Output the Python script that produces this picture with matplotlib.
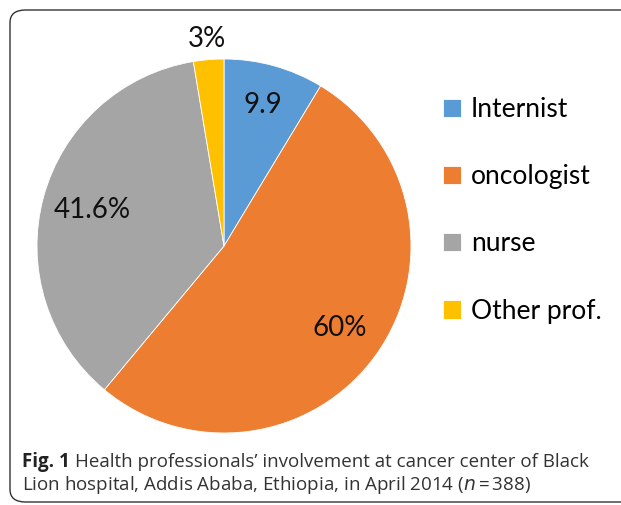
import matplotlib
matplotlib.use("Agg")
import matplotlib.pyplot as plt
from matplotlib.patches import FancyBboxPatch
import numpy as np

categories = ["Internist", "oncologist", "nurse", "Other prof."]
values = [9.9, 60, 41.6, 3]
value_labels = ["9.9", "60%", "41.6%", "3%"]
colors = ["#5B9BD5", "#ED7D31", "#A5A5A5", "#FFC000"]
label_radii = [0.78, 0.76, 0.73, 1.11]

W, H = 621, 505
fig = plt.figure(figsize=(W / 100, H / 100), dpi=100)

# rounded frame
frame = FancyBboxPatch((10 / W, 1 - 502 / H), (640 - 10) / W, (502 - 10) / H,
                       boxstyle="round,pad=0,rounding_size=0.025",
                       transform=fig.transFigure, facecolor="none",
                       edgecolor="#333333", linewidth=1.0, clip_on=False)
fig.patches.append(frame)

cx, cy, r = 224, 246, 187
ax = fig.add_axes([(cx - r) / W, 1 - (cy + r) / H, 2 * r / W, 2 * r / H])
wedges, _ = ax.pie(values, colors=colors, startangle=90, counterclock=False,
                   radius=1.0, wedgeprops=dict(linewidth=0.6, edgecolor="white"))
ax.set_xlim(-1, 1)
ax.set_ylim(-1, 1)
ax.set_aspect("equal")
ax.axis("off")

font = "Lato"
for w, lab, rad in zip(wedges, value_labels, label_radii):
    ang = np.deg2rad((w.theta1 + w.theta2) / 2)
    ax.text(rad * np.cos(ang), rad * np.sin(ang), lab, ha="center", va="center",
            fontsize=20, family=font, color="#111111")

fig.legend(wedges, categories, loc="upper left",
           bbox_to_anchor=(443 / W, 1 - 97 / H), frameon=False,
           prop=dict(family=font, size=19), handlelength=0.7, handleheight=0.7,
           handletextpad=0.35, labelspacing=1.6, borderaxespad=0, borderpad=0)

cap_fs = 13.5
t1 = fig.text(22 / W, 1 - 467 / H, "Fig. 1", fontsize=cap_fs, family="Open Sans",
              fontweight="bold", color="#222222", va="baseline")
fig.canvas.draw()
bb = t1.get_window_extent()
fig.text((bb.x1 + 5) / W, 1 - 467 / H,
         "Health professionals\u2019 involvement at cancer center of Black",
         fontsize=cap_fs, family="Open Sans", color="#333333", va="baseline")
fig.text(22 / W, 1 - 490 / H,
         "Lion hospital, Addis Ababa, Ethiopia, in April 2014 ($\\it{n}$\u2009=\u2009388)",
         fontsize=cap_fs, family="Open Sans", color="#333333", va="baseline")

fig.savefig("out.png", dpi=100)
